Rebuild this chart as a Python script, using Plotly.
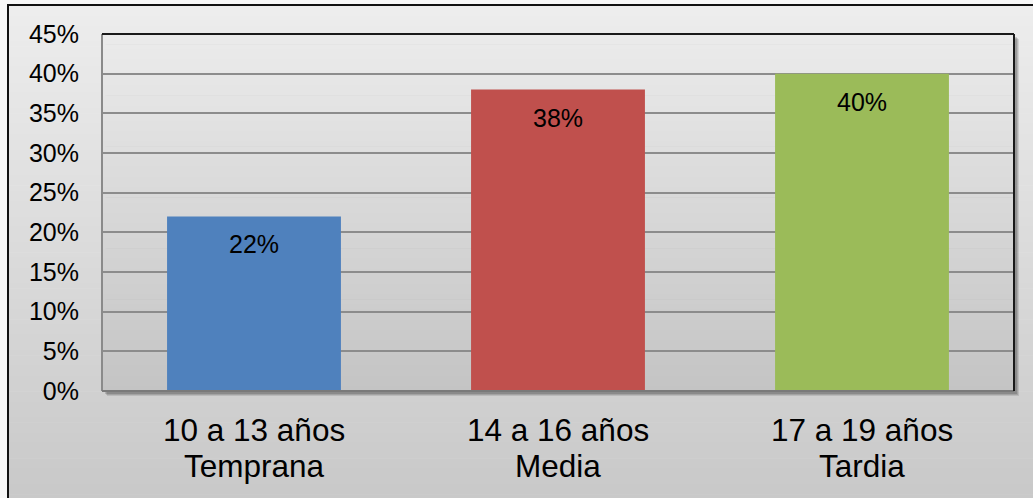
import plotly.graph_objects as go

# Data
grupos = ["10 a 13 años", "14 a 16 años", "17 a 19 años"]
etapas = ["Temprana", "Media", "Tardia"]
porcentajes = [0.22, 0.38, 0.40]
colores = ["#4f81bd", "#c0504d", "#9bbb59"]
y_ticks = [0, 0.05, 0.10, 0.15, 0.20, 0.25, 0.30, 0.35, 0.40, 0.45]

W, H = 1033, 498
ML, MR, MT, MB = 102, 19, 34, 107
PW, PH = W - ML - MR, H - MT - MB
FONT = "Liberation Sans, Arial, sans-serif"


def px_x(px):
    return (px - ML) / PW


def px_y(py):
    return (H - MB - py) / PH


def lerp_gray(c0, c1, t):
    v = round(c0 + (c1 - c0) * t)
    return f"rgb({v},{v},{v})"


shapes = []

# chart area gradient background
top, bottom, n = 5, 520, 100
for i in range(n):
    y0 = top + (bottom - top) * i / n
    y1 = top + (bottom - top) * (i + 1) / n + 0.6
    shapes.append(dict(type="rect", xref="paper", yref="paper", layer="below",
                       x0=px_x(8), x1=px_x(1045), y0=px_y(y1), y1=px_y(y0),
                       line=dict(width=0), fillcolor=lerp_gray(237, 199, i / (n - 1))))

# drop shadow behind plot area
for off, op in [(5, 0.10), (4, 0.12), (3, 0.15)]:
    shapes.append(dict(type="rect", xref="paper", yref="paper", layer="below",
                       x0=px_x(ML + off), x1=px_x(W - MR + off),
                       y0=px_y(H - MB + off), y1=px_y(MT + off),
                       line=dict(width=0), fillcolor=f"rgba(0,0,0,{op})"))

# plot area gradient
n2 = 70
for i in range(n2):
    y0 = MT + PH * i / n2
    y1 = MT + PH * (i + 1) / n2 + 0.6
    shapes.append(dict(type="rect", xref="paper", yref="paper", layer="below",
                       x0=0, x1=1, y0=px_y(min(y1, H - MB)), y1=px_y(y0),
                       line=dict(width=0), fillcolor=lerp_gray(235, 196, i / (n2 - 1))))

# outer frame
shapes.append(dict(type="rect", xref="paper", yref="paper", layer="above",
                   x0=px_x(8), x1=px_x(1060), y0=px_y(530), y1=px_y(5),
                   line=dict(color="#111111", width=2), fillcolor="rgba(0,0,0,0)"))

# plot area borders
shapes += [
    dict(type="line", xref="paper", yref="paper", layer="above",
         x0=0, x1=0, y0=0, y1=1, line=dict(color="#8a8a8a", width=2)),
    dict(type="line", xref="paper", yref="paper", layer="above",
         x0=0, x1=1, y0=0, y1=0, line=dict(color="#7a7a7a", width=2)),
    dict(type="line", xref="paper", yref="paper", layer="above",
         x0=0, x1=1, y0=1, y1=1, line=dict(color="#1a1a1a", width=2)),
    dict(type="line", xref="paper", yref="paper", layer="above",
         x0=1, x1=1, y0=0, y1=1, line=dict(color="#1a1a1a", width=2)),
]

fig = go.Figure(go.Bar(
    x=grupos, y=porcentajes, marker=dict(color=colores, line=dict(width=0)),
    hoverinfo="skip",
))

annotations = []
for g, e, v in zip(grupos, etapas, porcentajes):
    annotations.append(dict(x=g, y=v, xref="x", yref="y", text=f"{v:.0%}",
                            showarrow=False, yanchor="middle", yshift=-28,
                            font=dict(family=FONT, size=25, color="#000000")))
    annotations.append(dict(x=g, y=0, xref="x", yref="y", text=g,
                            showarrow=False, yanchor="middle", yshift=-39,
                            font=dict(family=FONT, size=31.5, color="#000000")))
    annotations.append(dict(x=g, y=0, xref="x", yref="y", text=e,
                            showarrow=False, yanchor="middle", yshift=-75,
                            font=dict(family=FONT, size=31.5, color="#000000")))

fig.update_layout(
    width=W, height=H,
    margin=dict(l=ML, r=MR, t=MT, b=MB, pad=0),
    paper_bgcolor="#f7f7f7",
    plot_bgcolor="rgba(0,0,0,0)",
    bargap=0.428,
    showlegend=False,
    shapes=shapes,
    annotations=annotations,
    font=dict(family=FONT, color="#000000"),
    xaxis=dict(showticklabels=False, showgrid=False, zeroline=False,
               showline=False, ticks="", range=[-0.5, 2.5], fixedrange=True),
    yaxis=dict(range=[0, 0.45], tickvals=y_ticks, tickformat=".0%",
               showgrid=True, gridcolor="#8c8c8c", gridwidth=1.5,
               zeroline=False, showline=False, ticks="",
               ticklabelstandoff=22, fixedrange=True,
               tickfont=dict(family=FONT, size=25, color="#000000")),
)

fig.write_html("out.html", config={"displayModeBar": False})
